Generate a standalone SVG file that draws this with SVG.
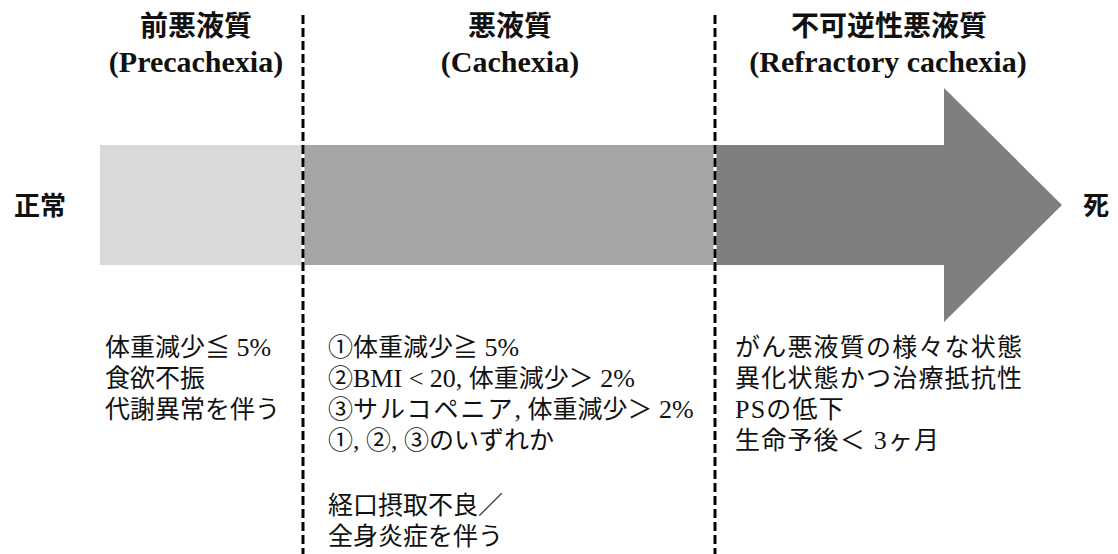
<svg xmlns="http://www.w3.org/2000/svg" width="1118" height="554" viewBox="0 0 1118 554">
<style>
.jp{font-family:"Noto Sans CJK JP","Noto Sans",sans-serif;}
.jpb{font-family:"Noto Sans CJK JP","Noto Sans",sans-serif;font-weight:bold;}
.en{font-family:"Liberation Serif","Times New Roman",serif;font-size:26px;}
.enb{font-family:"Liberation Serif","Times New Roman",serif;font-weight:bold;}
.body{font-size:25px;fill:#111;}
.wide{letter-spacing:1.2px;}
.title{font-size:28px;fill:#111;}
.side{font-size:26px;fill:#111;}
.sub{font-size:30px;fill:#111;}
.dash{stroke:#000;stroke-width:3;stroke-dasharray:9 4;fill:none;}
.under{stroke:#fff;stroke-width:3;fill:none;}
</style>
<rect width="1118" height="554" fill="#fff"/>
<g id="arrow">
<rect x="100" y="145" width="203" height="120" fill="#d9d9d9"/>
<rect x="303" y="145" width="412" height="120" fill="#a5a5a5"/>
<polygon points="715,145 944,145 944,88 1062,205 944,322 944,265 715,265" fill="#7f7f7f"/>
</g>
<g id="connectors">
<line class="under" x1="303" y1="145" x2="303" y2="265"/>
<line class="under" x1="715" y1="145" x2="715" y2="265"/>
<line class="dash" x1="303" y1="15" x2="303" y2="554"/>
<line class="dash" x1="715" y1="15" x2="715" y2="554"/>
</g>
<g id="normal"><text class="jpb side" x="14" y="215">正常</text></g>
<g id="death"><text class="jpb side" x="1083" y="215">死</text></g>
<g id="precachexia">
<text class="jpb title" x="196" y="36" text-anchor="middle">前悪液質</text>
<text class="enb sub" x="196" y="72" text-anchor="middle">(Precachexia)</text>
<text class="jp body" x="105" y="356">体重減少≦<tspan class="en"> 5%</tspan></text>
<text class="jp body" x="105" y="387">食欲不振</text>
<text class="jp body" x="105" y="418">代謝異常を伴う</text>
</g>
<g id="cachexia">
<text class="jpb title" x="510" y="36" text-anchor="middle">悪液質</text>
<text class="enb sub" x="510" y="72" text-anchor="middle">(Cachexia)</text>
<text class="jp body" x="328" y="356">①体重減少≧<tspan class="en"> 5%</tspan></text>
<text class="jp body" x="328" y="387">②<tspan class="en">BMI &lt; 20, </tspan>体重減少＞<tspan class="en"> 2%</tspan></text>
<text class="jp body" x="328" y="418">③<tspan letter-spacing="2">サルコペニア</tspan><tspan class="en">, </tspan>体重減少＞<tspan class="en"> 2%</tspan></text>
<text class="jp body" x="328" y="449">①<tspan class="en">, </tspan>②<tspan class="en">, </tspan>③のいずれか</text>
<text class="jp body" x="328" y="514">経口摂取不良／</text>
<text class="jp body" x="328" y="545">全身炎症を伴う</text>
</g>
<g id="refractory">
<text class="jpb title" x="889" y="36" text-anchor="middle">不可逆性悪液質</text>
<text class="enb sub" x="888" y="72" text-anchor="middle">(Refractory cachexia)</text>
<text class="jp body wide" x="735" y="356">がん悪液質の様々な状態</text>
<text class="jp body wide" x="735" y="387">異化状態かつ治療抵抗性</text>
<text class="jp body wide" x="735" y="418"><tspan class="en">PS</tspan>の低下</text>
<text class="jp body wide" x="735" y="449">生命予後＜<tspan class="en"> 3</tspan>ヶ月</text>
</g>
</svg>
